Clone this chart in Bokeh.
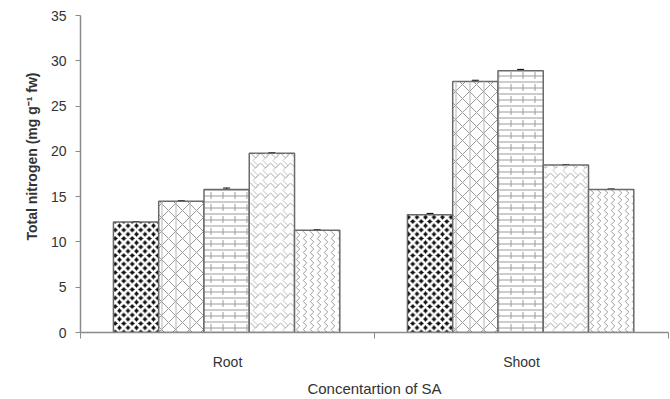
import math
from bokeh.plotting import figure
from bokeh.models import ColumnDataSource, FixedTicker, Whisker, TeeHead, Range1d
from bokeh.embed import file_html
from bokeh.resources import INLINE

# ---- data ----
categories = ["Root", "Shoot"]
series_names = ["T1", "T2", "T3", "T4", "T5"]
root_values = [12.2, 14.5, 15.8, 19.8, 11.3]
shoot_values = [13.0, 27.7, 28.9, 18.5, 15.8]
root_errors = [0.05, 0.05, 0.15, 0.05, 0.05]
shoot_errors = [0.15, 0.15, 0.15, 0.05, 0.05]
y_ticks = [0, 5, 10, 15, 20, 25, 30, 35]
y_title = "Total nitrogen (mg g\u207b\u00b9 fw)"
x_title = "Concentartion of SA"

# ---- styles ----
bar_w = 0.154
group_center = 0.497
styles = [
    dict(fill_color="#111111", hatch_pattern="diagonal_cross", hatch_color="white", hatch_scale=8.5, hatch_weight=2.6),
    dict(fill_color="white", hatch_pattern="diagonal_cross", hatch_color="#9a9a9a", hatch_scale=14, hatch_weight=1),
    dict(fill_color="white", hatch_pattern="horizontal_line", hatch_color="#9a9a9a", hatch_scale=6, hatch_weight=1),
    dict(fill_color="white", hatch_pattern="horizontal_wave", hatch_color="#a8a8a8", hatch_scale=10, hatch_weight=1),
    dict(fill_color="white", hatch_pattern="vertical_wave", hatch_color="#9a9a9a", hatch_scale=7, hatch_weight=1),
]
overlays = {
    1: dict(hatch_pattern="vertical_line", hatch_color="#b5b5b5", hatch_scale=14, hatch_weight=1),
    2: dict(hatch_pattern="vertical_dash", hatch_color="#9a9a9a", hatch_scale=12, hatch_weight=1),
    3: dict(hatch_pattern="vertical_wave", hatch_color="#c0c0c0", hatch_scale=10, hatch_weight=1),
}

FONT = "Liberation Sans"
TXT = "#333333"
AX = "#8a8a8a"

p = figure(width=670, height=399, x_range=Range1d(0, 2.0), y_range=Range1d(0, 35),
           output_backend="svg", toolbar_location=None,
           min_border_left=80, min_border_right=2, min_border_top=15, min_border_bottom=67)
p.outline_line_color = None
p.xgrid.visible = False
p.ygrid.visible = False
p.background_fill_color = "white"
p.border_fill_color = "white"

for j, name in enumerate(series_names):
    vals = [root_values[j], shoot_values[j]]
    errs = [root_errors[j], shoot_errors[j]]
    xs = [i + group_center + (j - 2) * bar_w for i in range(len(categories))]
    src = ColumnDataSource(dict(x=xs, top=vals,
                                upper=[v + e for v, e in zip(vals, errs)],
                                lower=[v - e for v, e in zip(vals, errs)]))
    p.vbar(x="x", top="top", width=bar_w, source=src, line_color="#6a6a6a", line_width=1.5, **styles[j])
    if j in overlays:
        p.vbar(x="x", top="top", width=bar_w - 0.01, source=src, fill_alpha=0, line_alpha=0, **overlays[j])
    p.add_layout(Whisker(base="x", upper="upper", lower="lower", source=src,
                         line_color="black", line_width=1,
                         upper_head=TeeHead(size=7, line_color="black", line_width=1),
                         lower_head=None))

# y axis
yax = p.yaxis[0]
yax.ticker = FixedTicker(ticks=y_ticks, minor_ticks=[])
yax.major_tick_out = 5
yax.major_tick_in = 0
yax.minor_tick_out = 0
yax.axis_line_color = AX
yax.axis_line_width = 1.5
yax.major_tick_line_color = AX
yax.major_label_standoff = 9
yax.major_label_text_font = FONT
yax.major_label_text_font_size = "14px"
yax.major_label_text_color = TXT
yax.axis_label = "\u00a0" * 9 + y_title
yax.axis_label_standoff = 8
yax.axis_label_text_font = FONT
yax.axis_label_text_font_size = "14px"
yax.axis_label_text_font_style = "bold"
yax.axis_label_text_color = TXT

# x axis
xax = p.xaxis[0]
xax.ticker = FixedTicker(ticks=[0.5, 1.5], minor_ticks=[0, 1, 2])
xax.major_label_overrides = {0.5: categories[0], 1.5: categories[1]}
xax.major_tick_out = 0
xax.major_tick_in = 0
xax.minor_tick_out = 6
xax.minor_tick_in = 0
xax.minor_tick_line_color = AX
xax.axis_line_color = AX
xax.axis_line_width = 1.5
xax.major_label_standoff = 15
xax.major_label_text_font = FONT
xax.major_label_text_font_size = "14px"
xax.major_label_text_color = TXT
xax.axis_label = x_title
xax.axis_label_standoff = 7
xax.axis_label_text_font = FONT
xax.axis_label_text_font_size = "15px"
xax.axis_label_text_font_style = "normal"
xax.axis_label_text_color = TXT

open("out.html", "w").write(file_html(p, INLINE))
